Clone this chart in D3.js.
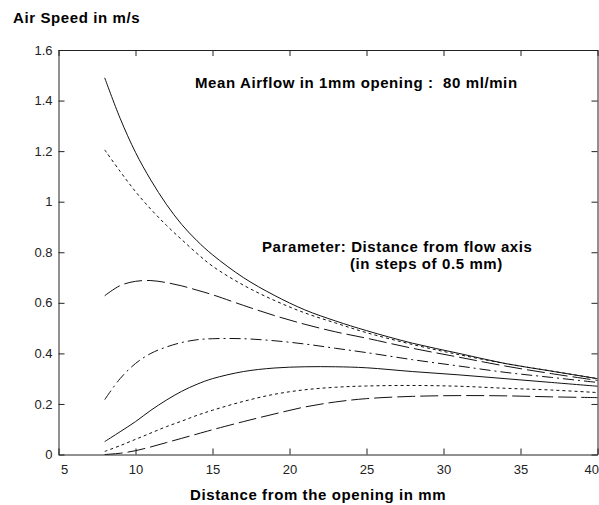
<!DOCTYPE html>
<html>
<head>
<meta charset="utf-8">
<script src="https://cdn.jsdelivr.net/npm/d3@7"></script>
<style>
  body { margin: 0; background: #fff; }
  .lab { font-family: Arial, "Liberation Sans", sans-serif; font-weight: bold; font-size: 15px; letter-spacing: 0.6px; fill: #000; }
  .tick text { font-family: Arial, "Liberation Sans", sans-serif; font-size: 13px; fill: #222; }
</style>
</head>
<body>
<div id="chart"></div>
<script>
// distance from the opening (mm)
const distances = [8, 9, 10, 11, 12, 13, 14, 15, 17, 19, 21, 23, 25, 28, 31, 34, 37, 40];

// air speed (m/s), one curve per distance from flow axis
const speed0 = [1.49, 1.33, 1.195, 1.085, 0.99, 0.91, 0.845, 0.79, 0.70, 0.63, 0.572, 0.528, 0.49, 0.44, 0.40, 0.36, 0.33, 0.30];
const speed1 = [1.205, 1.12, 1.04, 0.97, 0.907, 0.85, 0.795, 0.745, 0.67, 0.61, 0.56, 0.52, 0.482, 0.435, 0.395, 0.36, 0.33, 0.30];
const speed2 = [0.628, 0.668, 0.685, 0.688, 0.68, 0.667, 0.65, 0.632, 0.59, 0.55, 0.515, 0.485, 0.46, 0.42, 0.385, 0.35, 0.32, 0.293];
const speed3 = [0.217, 0.30, 0.36, 0.40, 0.425, 0.443, 0.454, 0.458, 0.458, 0.45, 0.437, 0.42, 0.403, 0.375, 0.35, 0.325, 0.305, 0.285];
const speed4 = [0.051, 0.09, 0.13, 0.175, 0.215, 0.25, 0.278, 0.30, 0.328, 0.342, 0.347, 0.347, 0.343, 0.328, 0.315, 0.30, 0.285, 0.27];
const speed5 = [0.012, 0.035, 0.06, 0.085, 0.11, 0.132, 0.155, 0.175, 0.21, 0.238, 0.256, 0.266, 0.271, 0.273, 0.27, 0.262, 0.255, 0.245];
const speed6 = [0.0, 0.005, 0.015, 0.03, 0.047, 0.064, 0.081, 0.098, 0.13, 0.16, 0.188, 0.208, 0.221, 0.23, 0.233, 0.232, 0.228, 0.225];

const xTicks = [5, 10, 15, 20, 25, 30, 35, 40];
const yTicks = [0, 0.2, 0.4, 0.6, 0.8, 1, 1.2, 1.4, 1.6];

const series = [
  {v: speed0, dash: null},
  {v: speed1, dash: "3,3"},
  {v: speed2, dash: "18,5"},
  {v: speed3, dash: "11,4,2,4"},
  {v: speed4, dash: null},
  {v: speed5, dash: "3,3"},
  {v: speed6, dash: "18,5"}
];

const W = 599, H = 505;
const margin = {top: 50, right: 1.5, bottom: 50.5, left: 58.5};
const width = W - margin.left - margin.right;
const height = H - margin.top - margin.bottom;

const svg = d3.select("#chart").append("svg")
  .attr("width", W)
  .attr("height", H);

const g = svg.append("g")
  .attr("transform", `translate(${margin.left},${margin.top})`);

const x = d3.scaleLinear().domain([5, 40]).range([0, width]);
const y = d3.scaleLinear().domain([0, 1.6]).range([height, 0]);

// axes, matlab style with inward ticks on all four sides
const xAxis = g.append("g")
  .attr("transform", `translate(0,${height})`)
  .call(d3.axisBottom(x).tickValues(xTicks).tickSizeInner(-6).tickSizeOuter(0).tickPadding(10).tickFormat(d3.format("d")));
// first and last labels sit inside the figure, like the original
xAxis.selectAll(".tick text")
  .filter(d => d === 5).attr("text-anchor", "start").attr("dx", 2);
xAxis.selectAll(".tick text")
  .filter(d => d === 40).attr("text-anchor", "end").attr("dx", 1);

g.append("g")
  .call(d3.axisTop(x).tickValues(xTicks).tickSizeInner(-6).tickSizeOuter(0).tickFormat(""));
g.append("g")
  .call(d3.axisLeft(y).tickValues(yTicks).tickSizeInner(-6).tickSizeOuter(0).tickPadding(6).tickFormat(d => String(+d.toFixed(1))));
g.append("g")
  .attr("transform", `translate(${width},0)`)
  .call(d3.axisRight(y).tickValues(yTicks).tickSizeInner(-6).tickSizeOuter(0).tickFormat(""));

g.selectAll(".domain, .tick line").attr("stroke", "#222");

const line = d3.line()
  .x((d, i) => x(distances[i]))
  .y(d => y(d))
  .curve(d3.curveCatmullRom.alpha(0.5));

g.selectAll(".curve").data(series).enter()
  .append("path")
  .attr("class", "curve")
  .attr("fill", "none")
  .attr("stroke", "#111")
  .attr("stroke-width", 1)
  .attr("stroke-dasharray", d => d.dash)
  .attr("d", d => line(d.v));

// labels
svg.append("text").attr("class", "lab").attr("x", 13).attr("y", 23).text("Air Speed in m/s");
svg.append("text").attr("class", "lab").attr("x", 195).attr("y", 87.5)
  .style("white-space", "pre").text("Mean Airflow in 1mm opening :  80 ml/min");
svg.append("text").attr("class", "lab").attr("x", 262).attr("y", 252).text("Parameter: Distance from flow axis");
svg.append("text").attr("class", "lab").attr("x", 350).attr("y", 269).text("(in steps of 0.5 mm)");
svg.append("text").attr("class", "lab").attr("x", 190).attr("y", 500).text("Distance from the opening in mm");
</script>
</body>
</html>
